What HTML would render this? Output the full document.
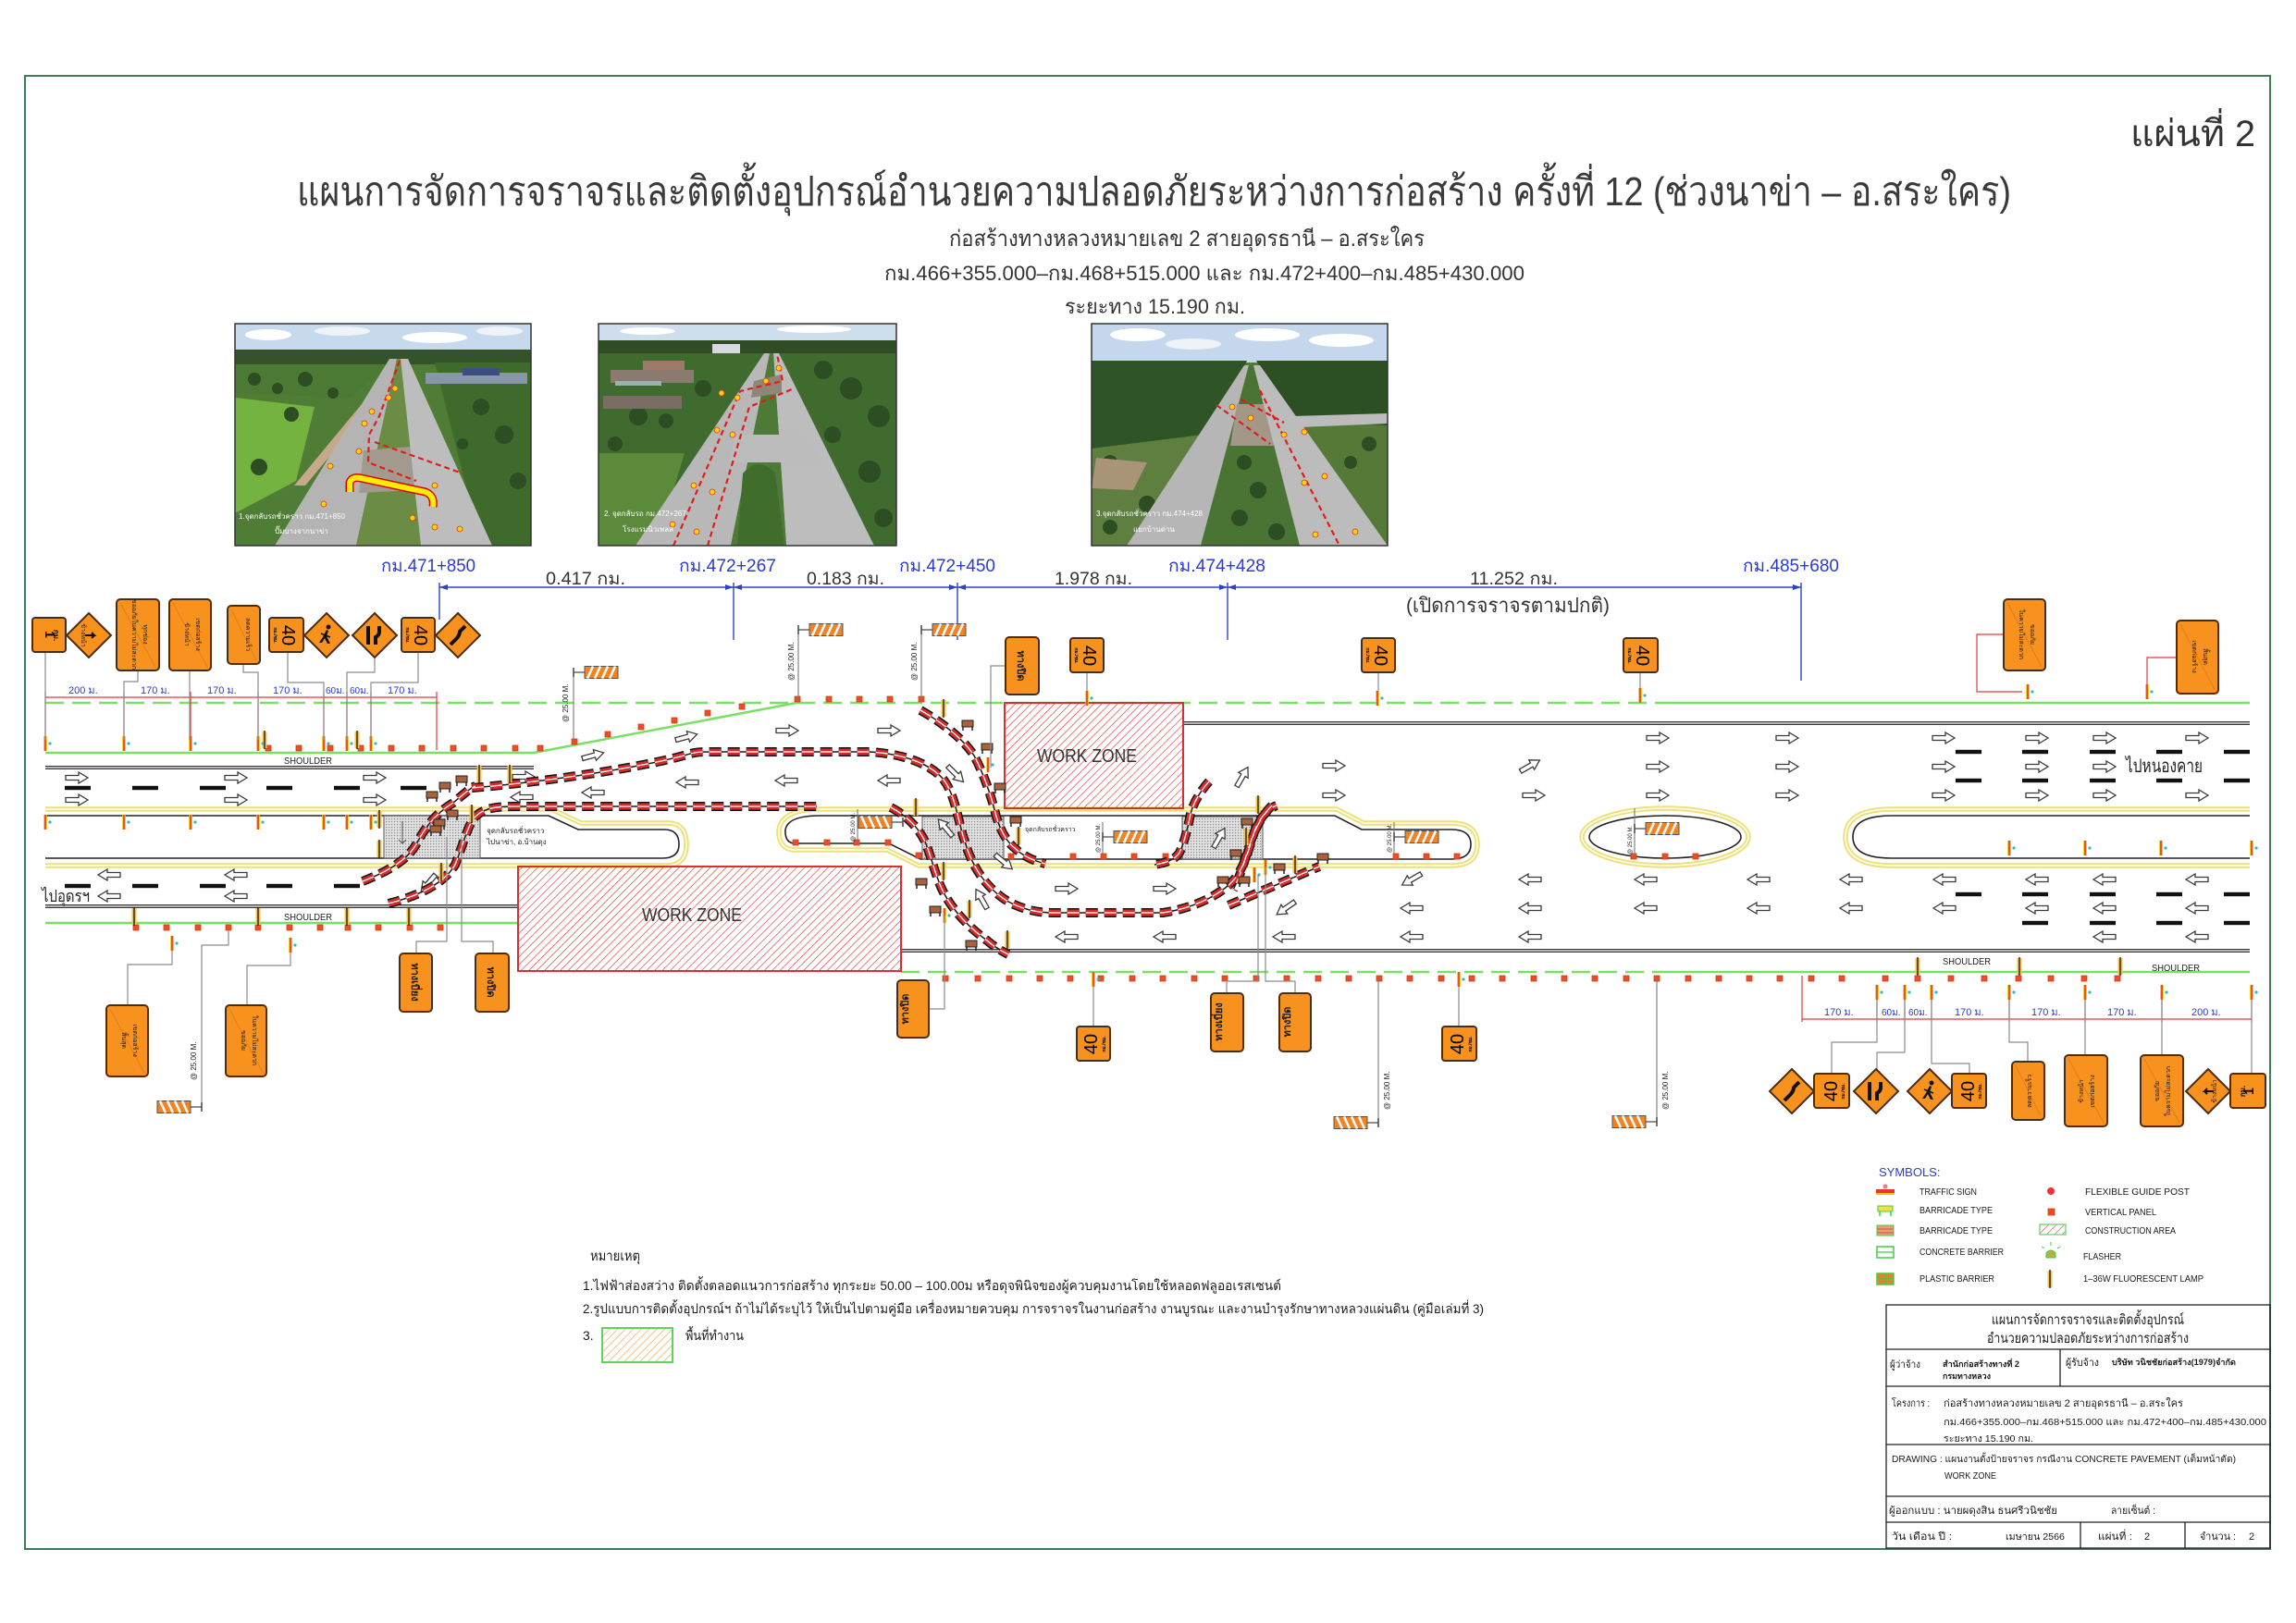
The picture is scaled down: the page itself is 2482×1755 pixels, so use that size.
<!DOCTYPE html>
<html><head><meta charset="utf-8">
<style>
html,body{margin:0;padding:0;background:#fff;}
svg{display:block;}
text{font-family:"Liberation Sans","DejaVu Sans","Noto Sans CJK SC",sans-serif;}
.sg{fill:#f7921e;stroke:#4d2c0f;stroke-width:2;}
.sgl{stroke:#d97a1e;stroke-width:.8;fill:none;}
.st{font-size:7px;fill:#1a1a1a;}
.ld{fill:none;stroke:#8c8c8c;stroke-width:1.2;}
.rd{fill:none;stroke:#e23b3b;stroke-width:1.2;}
.bl{fill:#2a3bd1;}
.gd{fill:none;stroke:#78e064;stroke-width:2.5;stroke-dasharray:20 9;}
.gs{fill:none;stroke:#78e064;stroke-width:2.5;}
.dk{fill:none;stroke:#3a3a3a;stroke-width:4;}
.dl{fill:none;stroke:#dcdcdc;stroke-width:1.4;}
.ye{fill:none;stroke:#ebe07a;stroke-width:5.5;}
.yi{fill:none;stroke:#fffbe2;stroke-width:1.8;}
.me{fill:none;stroke:#222;stroke-width:1.6;}
.c1{fill:none;stroke:#1a1a1a;stroke-width:1.5;}
.c2{fill:none;stroke:#151515;stroke-width:10;stroke-dasharray:13 7;}
.c3{fill:none;stroke:#d42a2a;stroke-width:7;stroke-dasharray:13 7;}
.c4{fill:none;stroke:#fff;stroke-width:1.3;stroke-dasharray:13 7;}
.t25{font-size:8px;fill:#222;}
.lg{font-size:10px;fill:#1a1a1a;}
.tb{fill:#1a1a1a;}
.cap{fill:#fff;font-size:8px;}
.tr{fill:#2d4d22;}
</style></head><body>
<svg xmlns="http://www.w3.org/2000/svg" xmlns:xlink="http://www.w3.org/1999/xlink" width="2482" height="1755" viewBox="0 0 2482 1755">
<defs>
<pattern id="hat" width="6" height="6" patternUnits="userSpaceOnUse" patternTransform="rotate(45)"><line x1="0" y1="0" x2="0" y2="6" stroke="#e03a3a" stroke-width="1.3"/></pattern>
<pattern id="hato" width="6" height="6" patternUnits="userSpaceOnUse" patternTransform="rotate(45)"><line x1="0" y1="0" x2="0" y2="6" stroke="#f0a040" stroke-width="1.3"/></pattern>
<pattern id="dots" width="3" height="3" patternUnits="userSpaceOnUse"><rect width="3" height="3" fill="#e0e0e0"/><rect width="1.2" height="1.2" fill="#8a8a8a"/></pattern>
<clipPath id="cp1"><rect x="254" y="350" width="320" height="240"/></clipPath>
<clipPath id="cp2"><rect x="647" y="350" width="322" height="240"/></clipPath>
<clipPath id="cp3"><rect x="1180" y="350" width="320" height="240"/></clipPath>
<g id="ar"><path d="M-12,-2.5H2V-6L12,0L2,6V2.5H-12Z" fill="#fff" stroke="#3a3a3a" stroke-width="1.3"/></g>
<g id="al"><path d="M12,-2.5H-2V-6L-12,0L-2,6V2.5H12Z" fill="#fff" stroke="#3a3a3a" stroke-width="1.3"/></g>
<g id="rq"><rect x="-3" y="-3" width="6" height="6" fill="#f04a2a" stroke="#c41" stroke-width="0.8"/></g>
<g id="po"><rect x="-1.8" y="-8" width="3.6" height="16" fill="#f4c20d"/><line x1="0" y1="-8" x2="0" y2="8" stroke="#e3262a" stroke-width="1.4"/><circle cx="5" cy="0" r="1.6" fill="#35b9b9"/></g>
<g id="lp"><rect x="-2.5" y="-9" width="5" height="18" fill="#f6c04a"/><line x1="0" y1="-10" x2="0" y2="10" stroke="#222" stroke-width="1.4"/></g>
<g id="bar"><line x1="0" y1="-5" x2="0" y2="5" stroke="#444" stroke-width="1.5"/><line x1="0" y1="0" x2="12" y2="0" stroke="#444" stroke-width="1.2"/><rect x="12" y="-6.5" width="36" height="13" fill="#f58220" stroke="#555" stroke-width="1"/><path d="M15,6.5L21,-6.5M23,6.5L29,-6.5M31,6.5L37,-6.5M39,6.5L45,-6.5" stroke="#fff" stroke-width="2.6"/></g>
<g id="dh"><rect x="-14" y="-2.2" width="28" height="4.4" fill="#111"/></g>
<g id="bk"><rect x="-6" y="-4" width="12" height="7" fill="#a8623c" stroke="#222" stroke-width="1"/><line x1="-5" y1="3" x2="-5" y2="7" stroke="#222" stroke-width="1.5"/><line x1="5" y1="3" x2="5" y2="7" stroke="#222" stroke-width="1.5"/></g>
<path id="ch1" d="M510,852 C560,848 640,838 700,826 S740,813 770,813 L940,813 C975,815 1005,825 1020,843 C1033,860 1036,890 1043,910 C1050,935 1065,960 1090,975 C1105,983 1120,987 1140,987 L1257,987 C1290,982 1320,968 1335,950 C1350,930 1352,905 1360,890 C1366,880 1372,874 1380,871"/>
<path id="ch2" d="M420,977 C455,968 480,955 492,935 C500,915 505,895 512,885 C520,876 530,872 555,872 L883,872"/>
<path id="ch3" d="M392,953 C420,942 440,930 450,913 C458,897 470,880 490,868 C500,860 508,852 514,850"/>
<path id="ch4" d="M995,768 C1020,782 1042,800 1053,817 C1065,840 1072,863 1077,883 C1082,900 1090,912 1097,917 C1105,925 1115,930 1130,934"/>
<path id="ch5" d="M963,873 C980,882 993,895 1000,910 C1008,930 1012,950 1020,965 C1030,985 1050,1005 1067,1017 C1075,1024 1082,1028 1090,1032"/>
<path id="ch6" d="M1307,845 C1298,855 1290,868 1287,880 C1284,895 1280,912 1275,922 C1270,930 1260,933 1248,935"/>
<path id="ch7" d="M1328,979 L1426,937"/>
<path id="ch8" d="M1375,871 C1366,880 1358,893 1352,910 C1346,928 1342,945 1333,962"/>
</defs>

<rect x="0" y="0" width="2482" height="1755" fill="#fff"/>
<rect x="27" y="82" width="2427" height="1593" fill="none" stroke="#3f7d5a" stroke-width="2"/>

<!-- Titles -->
<text x="2303" y="158" font-size="40" fill="#333" textLength="135" lengthAdjust="spacingAndGlyphs">แผ่นที่ 2</text>
<text x="321" y="222" font-size="44" fill="#3a3a3a" textLength="1853" lengthAdjust="spacingAndGlyphs">แผนการจัดการจราจรและติดตั้งอุปกรณ์อำนวยความปลอดภัยระหว่างการก่อสร้าง  ครั้งที่ 12 (ช่วงนาข่า –  อ.สระใคร)</text>
<text x="1026" y="266" font-size="24" fill="#333" textLength="514" lengthAdjust="spacingAndGlyphs">ก่อสร้างทางหลวงหมายเลข 2 สายอุดรธานี – อ.สระใคร</text>
<text x="956" y="303" font-size="22" fill="#333" textLength="692" lengthAdjust="spacingAndGlyphs">กม.466+355.000–กม.468+515.000  และ  กม.472+400–กม.485+430.000</text>
<text x="1151" y="339" font-size="22" fill="#333" textLength="195" lengthAdjust="spacingAndGlyphs">ระยะทาง 15.190  กม.</text>

<!-- Photo 1 -->
<g clip-path="url(#cp1)">
<rect x="254" y="350" width="320" height="240" fill="#4f7d35"/>
<rect x="254" y="350" width="320" height="30" fill="#c7d9ec"/>
<ellipse cx="290" cy="362" rx="25" ry="6" fill="#fff"/><ellipse cx="370" cy="358" rx="30" ry="5" fill="#eef3f8"/><ellipse cx="470" cy="365" rx="35" ry="6" fill="#fff"/><ellipse cx="540" cy="358" rx="25" ry="5" fill="#eef3f8"/>
<rect x="254" y="378" width="320" height="16" fill="#34532a"/>
<polygon points="470,392 574,392 574,590 520,590" fill="#3e6a2c"/>
<polygon points="254,430 340,440 320,520 254,555" fill="#74b340"/>
<polygon points="254,395 420,395 380,430 254,425" fill="#4a7a33"/>
<g class="tr"><circle cx="275" cy="410" r="7"/><circle cx="300" cy="420" r="6"/><circle cx="330" cy="410" r="8"/><circle cx="360" cy="425" r="6"/><circle cx="315" cy="448" r="8"/><circle cx="280" cy="505" r="9"/><circle cx="520" cy="440" r="9"/><circle cx="545" cy="470" r="10"/><circle cx="560" cy="520" r="9"/><circle cx="500" cy="480" r="6"/></g>
<rect x="460" y="403" width="110" height="12" fill="#8896aa"/><rect x="500" y="398" width="40" height="8" fill="#3a4f80"/>
<polygon points="405,420 418,420 330,525 318,525" fill="#c6a98a"/>
<polygon points="421,388 429,388 385,590 297,590" fill="#b4b4b4"/>
<polygon points="429,388 433,388 455,590 385,590" fill="#6a8c45"/>
<polygon points="393,487 445,483 450,530 388,533" fill="#a29a8e"/>
<polygon points="433,388 441,388 532,590 455,590" fill="#bdbdbd"/>
<path d="M432,390 L410,450 L399,470 L398,500 L450,520 M405,478 L500,512" fill="none" stroke="#e41b1b" stroke-width="2.2" stroke-dasharray="6 4"/>
<path d="M378,532 L378,522 Q380,515 390,517 L460,532 Q470,536 468,548" fill="none" stroke="#d00" stroke-width="9"/>
<path d="M378,532 L378,522 Q380,515 390,517 L460,532 Q470,536 468,548" fill="none" stroke="#ffec00" stroke-width="6"/>
<g fill="#ffd400" stroke="#d33" stroke-width="0.8"><circle cx="357" cy="504" r="3"/><circle cx="388" cy="488" r="3"/><circle cx="394" cy="458" r="3"/><circle cx="402" cy="445" r="3"/><circle cx="420" cy="430" r="3"/><circle cx="427" cy="420" r="3"/><circle cx="470" cy="525" r="3"/><circle cx="446" cy="560" r="3"/><circle cx="470" cy="570" r="3"/><circle cx="497" cy="572" r="3"/><circle cx="350" cy="545" r="3"/></g>
<text x="258" y="561" class="cap">1.จุดกลับรถชั่วคราว กม.471+850</text>
<text x="297" y="577" class="cap">ปั๊มบางจากนาข่า</text>
</g>
<rect x="254" y="350" width="320" height="240" fill="none" stroke="#333" stroke-width="1.5"/>

<!-- Photo 2 -->
<g clip-path="url(#cp2)">
<rect x="647" y="350" width="322" height="240" fill="#3f6b2e"/>
<rect x="647" y="350" width="322" height="19" fill="#cfdeed"/>
<ellipse cx="700" cy="358" rx="30" ry="4" fill="#fff"/><ellipse cx="880" cy="356" rx="40" ry="4" fill="#fff"/>
<rect x="647" y="368" width="322" height="14" fill="#2f4c24"/>
<g class="tr"><circle cx="890" cy="400" r="10"/><circle cx="920" cy="420" r="12"/><circle cx="950" cy="450" r="12"/><circle cx="900" cy="470" r="9"/><circle cx="940" cy="510" r="12"/><circle cx="955" cy="560" r="10"/><circle cx="690" cy="450" r="10"/><circle cx="720" cy="455" r="8"/><circle cx="665" cy="480" r="8"/><circle cx="760" cy="420" r="9"/></g>
<rect x="770" y="372" width="30" height="10" fill="#d8d8e0"/>
<rect x="695" y="390" width="45" height="12" fill="#a0786a"/>
<rect x="660" y="400" width="90" height="14" fill="#8a7b6e"/>
<rect x="665" y="412" width="50" height="5" fill="#9cb0b0"/>
<rect x="652" y="428" width="85" height="14" fill="#7a6e64"/>
<polygon points="647,490 740,490 710,590 647,590" fill="#5a8a3a"/>
<polygon points="826,382 832,382 790,590 687,590" fill="#b8b8b8"/>
<polygon points="836,382 842,382 945,590 850,590" fill="#bdbdbd"/>
<polygon points="832,382 836,382 850,590 790,590" fill="#4e7a38"/>
<polygon points="795,470 868,470 890,500 788,500" fill="#bcbcbc"/>
<path d="M797,590 L803,512 Q820,492 838,512 L848,590 Z" fill="#3f6e2c"/>
<polygon points="815,412 845,405 845,425 812,430" fill="#8f8678"/>
<path d="M728,590 L800,423 L846,412 L840,383 M765,590 L810,440 L856,421" fill="none" stroke="#e41b1b" stroke-width="2.2" stroke-dasharray="6 4"/>
<g fill="#ffd400" stroke="#d33" stroke-width="0.8"><circle cx="780" cy="425" r="3"/><circle cx="797" cy="430" r="3"/><circle cx="828" cy="412" r="3"/><circle cx="842" cy="398" r="3"/><circle cx="775" cy="465" r="3"/><circle cx="792" cy="470" r="3"/><circle cx="750" cy="525" r="3"/><circle cx="770" cy="532" r="3"/><circle cx="727" cy="567" r="3"/><circle cx="753" cy="575" r="3"/></g>
<text x="653" y="558" class="cap">2. จุดกลับรถ กม.472+267</text>
<text x="673" y="575" class="cap">โรงแรมนิวเพลส</text>
</g>
<rect x="647" y="350" width="322" height="240" fill="none" stroke="#333" stroke-width="1.5"/>

<!-- Photo 3 -->
<g clip-path="url(#cp3)">
<rect x="1180" y="350" width="320" height="240" fill="#557a38"/>
<rect x="1180" y="350" width="320" height="42" fill="#c4d7ec"/>
<ellipse cx="1230" cy="362" rx="30" ry="7" fill="#fff"/><ellipse cx="1290" cy="372" rx="30" ry="6" fill="#eef3f8"/><ellipse cx="1370" cy="362" rx="35" ry="7" fill="#fff"/><ellipse cx="1450" cy="368" rx="35" ry="7" fill="#fff"/>
<polygon points="1180,390 1348,390 1310,470 1180,485" fill="#2f5426"/>
<polygon points="1358,390 1500,390 1500,460 1400,455" fill="#2c5024"/>
<polygon points="1180,485 1300,470 1260,590 1180,590" fill="#5f7f40"/>
<g class="tr"><circle cx="1200" cy="500" r="8"/><circle cx="1240" cy="545" r="9"/><circle cx="1200" cy="570" r="8"/><circle cx="1480" cy="480" r="8"/><circle cx="1460" cy="500" r="7"/></g>
<polygon points="1185,495 1240,500 1225,530 1180,528" fill="#a99478"/>
<polygon points="1345,395 1350,395 1298,590 1218,590" fill="#b6b6b6"/>
<polygon points="1350,395 1355,395 1405,590 1298,590" fill="#4a7434"/>
<g class="tr"><circle cx="1345" cy="500" r="8"/><circle cx="1360" cy="530" r="9"/><circle cx="1340" cy="560" r="9"/><circle cx="1380" cy="575" r="9"/></g>
<polygon points="1337,437 1372,437 1378,482 1330,482" fill="#a39887"/>
<polygon points="1355,395 1362,395 1500,590 1405,590" fill="#bcbcbc"/>
<polygon points="1395,450 1500,447 1500,458 1405,462" fill="#bcbcbc"/>
<path d="M1315,438 L1373,480 M1342,432 L1388,457 M1362,422 L1448,590" fill="none" stroke="#e41b1b" stroke-width="2.2" stroke-dasharray="6 4"/>
<g fill="#ffd400" stroke="#d33" stroke-width="0.8"><circle cx="1332" cy="440" r="3"/><circle cx="1352" cy="452" r="3"/><circle cx="1388" cy="470" r="3"/><circle cx="1410" cy="467" r="3"/><circle cx="1410" cy="522" r="3"/><circle cx="1432" cy="515" r="3"/><circle cx="1422" cy="578" r="3"/><circle cx="1465" cy="575" r="3"/></g>
<text x="1185" y="558" class="cap">3.จุดกลับรถชั่วคราว กม.474+428</text>
<text x="1225" y="575" class="cap">แยกบ้านด่าน</text>
</g>
<rect x="1180" y="350" width="320" height="240" fill="none" stroke="#333" stroke-width="1.5"/>

<!-- Stations -->
<g font-size="19" class="bl">
<text x="412" y="618" textLength="102" lengthAdjust="spacingAndGlyphs">กม.471+850</text>
<text x="734" y="618" textLength="105" lengthAdjust="spacingAndGlyphs">กม.472+267</text>
<text x="972" y="618" textLength="104" lengthAdjust="spacingAndGlyphs">กม.472+450</text>
<text x="1263" y="618" textLength="105" lengthAdjust="spacingAndGlyphs">กม.474+428</text>
<text x="1884" y="618" textLength="104" lengthAdjust="spacingAndGlyphs">กม.485+680</text>
</g>
<g stroke="#3040c8" stroke-width="1.4" fill="none">
<line x1="475" y1="635" x2="1947" y2="635"/>
<line x1="475" y1="630" x2="475" y2="670"/>
<line x1="793" y1="630" x2="793" y2="692"/>
<line x1="1035" y1="630" x2="1035" y2="692"/>
<line x1="1327" y1="630" x2="1327" y2="692"/>
<line x1="1947" y1="630" x2="1947" y2="736"/>
</g>
<g fill="#3040c8"><path d="M475,635 l9,-3 v6z"/><path d="M793,635 l-9,-3 v6z"/><path d="M793,635 l9,-3 v6z"/><path d="M1035,635 l-9,-3 v6z"/><path d="M1035,635 l9,-3 v6z"/><path d="M1327,635 l-9,-3 v6z"/><path d="M1327,635 l9,-3 v6z"/><path d="M1947,635 l-9,-3 v6z"/></g>
<g font-size="19" fill="#333">
<text x="590" y="632" textLength="86" lengthAdjust="spacingAndGlyphs">0.417  กม.</text>
<text x="872" y="632" textLength="84" lengthAdjust="spacingAndGlyphs">0.183  กม.</text>
<text x="1140" y="632" textLength="84" lengthAdjust="spacingAndGlyphs">1.978  กม.</text>
<text x="1589" y="632" textLength="95" lengthAdjust="spacingAndGlyphs">11.252  กม.</text>
<text x="1520" y="662" font-size="22" textLength="220" lengthAdjust="spacingAndGlyphs">(เปิดการจราจรตามปกติ)</text>
</g>

<!-- ROAD: boundaries -->
<path class="gd" d="M49,760 H1804"/>
<path class="gs" d="M1804,760 H2432"/>
<path class="gs" d="M49,814 H577 L861,760"/>
<path class="gs" d="M49,998 H560"/>
<path class="gd" d="M974,1051 H1804"/>
<path class="gs" d="M1804,1051 H2432"/>
<path class="dk" d="M49,830 H577"/><path class="dl" d="M49,830 H577"/>
<path class="dk" d="M1279,782 H2432"/><path class="dl" d="M1279,782 H2432"/>
<path class="dk" d="M49,980 H560"/><path class="dl" d="M49,980 H560"/>
<path class="dk" d="M974,1028 H2432"/><path class="dl" d="M974,1028 H2432"/>

<!-- medians -->
<path class="ye" d="M49,875 L596,875 L628,890 L722,890 Q742,890 742,913 Q742,936 720,936 L49,936"/>
<path class="yi" d="M49,875 L596,875 L628,890 L722,890 Q742,890 742,913 Q742,936 720,936 L49,936"/>
<path class="me" d="M49,882 L593,882 L625,897 L718,897 Q734,897 734,913 Q734,928 716,928 L49,928"/>
<path class="ye" d="M886,875 L1445,875 L1474,890 L1569,890 Q1597,890 1597,913 Q1597,936 1569,936 L993,936 L959,919 L860,919 Q841,919 842,897 Q846,875 886,875 Z"/>
<path class="yi" d="M886,875 L1445,875 L1474,890 L1569,890 Q1597,890 1597,913 Q1597,936 1569,936 L993,936 L959,919 L860,919 Q841,919 842,897 Q846,875 886,875 Z"/>
<path class="me" d="M886,882 L1443,882 L1472,897 L1569,897 Q1590,897 1590,913 Q1590,929 1569,929 L995,929 L961,912 L860,912 Q848,912 849,897 Q852,882 886,882 Z"/>
<ellipse cx="1800" cy="905" rx="90" ry="31" class="ye"/><ellipse cx="1800" cy="905" rx="90" ry="31" class="yi"/>
<ellipse cx="1800" cy="905" rx="82" ry="23" class="me"/>
<path class="ye" d="M2432,875 L2045,875 Q1995,875 1995,905 Q1995,936 2045,936 L2432,936"/>
<path class="yi" d="M2432,875 L2045,875 Q1995,875 1995,905 Q1995,936 2045,936 L2432,936"/>
<path class="me" d="M2432,882 L2045,882 Q2003,882 2003,905 Q2003,928 2045,928 L2432,928"/>

<!-- crossovers -->
<rect x="415" y="882" width="104" height="46" fill="url(#dots)" stroke="#555" stroke-width="1"/>
<rect x="997" y="883" width="88" height="46" fill="url(#dots)" stroke="#555" stroke-width="1"/>
<rect x="1278" y="883" width="87" height="46" fill="url(#dots)" stroke="#555" stroke-width="1"/>
<g fill="none" stroke="#555" stroke-width="1"><path d="M435,888 v24 l-4,-4 m4,4 l4,-4"/></g>
<use href="#ar" transform="translate(1022,895) rotate(-130)"/>
<use href="#ar" transform="translate(1318,906) rotate(-60)"/>
<text x="526" y="901" font-size="8" fill="#222">จุดกลับรถชั่วคราว</text>
<text x="526" y="913" font-size="8" fill="#222">ไปนาข่า, อ.บ้านดุง</text>
<text x="1108" y="899" font-size="7" fill="#222">จุดกลับรถชั่วคราว</text>

<!-- work zones -->
<rect x="560" y="937" width="414" height="113" fill="url(#hat)" stroke="#d83030" stroke-width="2"/>
<text x="694" y="996" font-size="20" fill="#333" textLength="108" lengthAdjust="spacingAndGlyphs">WORK   ZONE</text>
<rect x="1086" y="760" width="193" height="114" fill="url(#hat)" stroke="#d83030" stroke-width="2"/>
<text x="1121" y="824" font-size="20" fill="#333" textLength="108" lengthAdjust="spacingAndGlyphs">WORK   ZONE</text>

<!-- lane dashes -->
<g>
<use href="#dh" x="84" y="852"/><use href="#dh" x="157" y="852"/><use href="#dh" x="230" y="852"/><use href="#dh" x="302" y="852"/><use href="#dh" x="375" y="852"/><use href="#dh" x="447" y="852"/>
<use href="#dh" x="84" y="958"/><use href="#dh" x="157" y="958"/><use href="#dh" x="230" y="958"/><use href="#dh" x="302" y="958"/><use href="#dh" x="375" y="958"/>
<use href="#dh" x="2128" y="813"/><use href="#dh" x="2200" y="813"/><use href="#dh" x="2273" y="813"/><use href="#dh" x="2345" y="813"/><use href="#dh" x="2418" y="813"/>
<use href="#dh" x="2128" y="844"/><use href="#dh" x="2200" y="844"/><use href="#dh" x="2273" y="844"/><use href="#dh" x="2345" y="844"/><use href="#dh" x="2418" y="844"/>
<use href="#dh" x="2128" y="967"/><use href="#dh" x="2200" y="967"/><use href="#dh" x="2273" y="967"/><use href="#dh" x="2345" y="967"/><use href="#dh" x="2418" y="967"/>
<use href="#dh" x="2200" y="998"/><use href="#dh" x="2273" y="998"/><use href="#dh" x="2345" y="998"/><use href="#dh" x="2418" y="998"/>
</g>

<!-- arrows -->
<g>
<use href="#ar" x="83" y="841"/><use href="#ar" x="255" y="841"/><use href="#ar" x="405" y="841"/>
<use href="#ar" x="83" y="865"/><use href="#ar" x="255" y="865"/><use href="#ar" x="405" y="865"/>
<use href="#ar" x="566" y="840"/>
<use href="#ar" transform="translate(641,817) rotate(-15)"/><use href="#ar" transform="translate(742,797) rotate(-15)"/>
<use href="#ar" x="851" y="790"/><use href="#ar" x="961" y="790"/>
<use href="#ar" x="1153" y="961"/><use href="#ar" x="1259" y="961"/>
<use href="#ar" x="1442" y="828"/><use href="#ar" x="1442" y="860"/>
<use href="#ar" transform="translate(1654,828) rotate(-30)"/><use href="#ar" x="1658" y="860"/>
<use href="#ar" transform="translate(1033,837) rotate(45)"/>
<use href="#ar" transform="translate(1343,840) rotate(-60)"/>
<use href="#ar" x="1792" y="798"/><use href="#ar" x="1932" y="798"/><use href="#ar" x="2101" y="798"/><use href="#ar" x="2202" y="798"/><use href="#ar" x="2275" y="798"/><use href="#ar" x="2375" y="798"/>
<use href="#ar" x="1792" y="829"/><use href="#ar" x="1932" y="829"/><use href="#ar" x="2101" y="829"/><use href="#ar" x="2202" y="829"/><use href="#ar" x="2275" y="829"/>
<use href="#ar" x="1792" y="860"/><use href="#ar" x="1932" y="860"/><use href="#ar" x="2101" y="860"/><use href="#ar" x="2202" y="860"/><use href="#ar" x="2275" y="860"/><use href="#ar" x="2375" y="860"/>
<use href="#al" x="118" y="946"/><use href="#al" x="255" y="946"/><use href="#al" x="118" y="969"/><use href="#al" x="255" y="969"/>
<use href="#al" x="564" y="862"/><use href="#al" x="641" y="857"/><use href="#al" x="743" y="846"/><use href="#al" x="850" y="844"/><use href="#al" x="961" y="844"/>
<use href="#al" transform="translate(463,955) rotate(-50)"/>
<use href="#al" transform="translate(1061,972) rotate(60)"/>
<use href="#al" transform="translate(1085,932) rotate(-140)"/>
<use href="#al" x="1153" y="1013"/><use href="#al" x="1259" y="1013"/><use href="#al" x="1388" y="1013"/>
<use href="#al" transform="translate(1390,982) rotate(-35)"/>
<use href="#al" transform="translate(1526,951) rotate(-30)"/><use href="#al" x="1526" y="982"/><use href="#al" x="1526" y="1013"/>
<use href="#al" x="1654" y="951"/><use href="#al" x="1654" y="982"/><use href="#al" x="1654" y="1013"/>
<use href="#al" x="1779" y="951"/><use href="#al" x="1901" y="951"/><use href="#al" x="2001" y="951"/><use href="#al" x="2102" y="951"/><use href="#al" x="2202" y="951"/><use href="#al" x="2275" y="951"/><use href="#al" x="2375" y="951"/>
<use href="#al" x="1779" y="982"/><use href="#al" x="1901" y="982"/><use href="#al" x="2001" y="982"/><use href="#al" x="2102" y="982"/><use href="#al" x="2202" y="982"/><use href="#al" x="2275" y="982"/><use href="#al" x="2375" y="982"/>
<use href="#al" x="2275" y="1013"/><use href="#al" x="2375" y="1013"/>
</g>

<!-- text road -->
<text x="307" y="826" font-size="10" fill="#222" textLength="52" lengthAdjust="spacingAndGlyphs">SHOULDER</text>
<text x="307" y="995" font-size="10" fill="#222" textLength="52" lengthAdjust="spacingAndGlyphs">SHOULDER</text>
<text x="2100" y="1043" font-size="10" fill="#222" textLength="52" lengthAdjust="spacingAndGlyphs">SHOULDER</text>
<text x="2326" y="1050" font-size="10" fill="#222" textLength="52" lengthAdjust="spacingAndGlyphs">SHOULDER</text>
<text x="45" y="975" font-size="18" fill="#222" textLength="52" lengthAdjust="spacingAndGlyphs">ไปอุดรฯ</text>
<text x="2298" y="835" font-size="20" fill="#222" textLength="83" lengthAdjust="spacingAndGlyphs">ไปหนองคาย</text>

<!-- red squares -->
<g>
<use href="#rq" x="290" y="809"/><use href="#rq" x="323" y="809"/><use href="#rq" x="357" y="809"/><use href="#rq" x="390" y="809"/><use href="#rq" x="423" y="809"/><use href="#rq" x="456" y="809"/><use href="#rq" x="490" y="809"/><use href="#rq" x="523" y="809"/><use href="#rq" x="557" y="809"/><use href="#rq" x="584" y="809"/>
<use href="#rq" x="621" y="802"/><use href="#rq" x="657" y="794"/><use href="#rq" x="693" y="786"/><use href="#rq" x="729" y="779"/><use href="#rq" x="765" y="771"/><use href="#rq" x="802" y="764"/>
<use href="#rq" x="862" y="756"/><use href="#rq" x="896" y="756"/><use href="#rq" x="929" y="756"/><use href="#rq" x="962" y="756"/><use href="#rq" x="996" y="756"/>
<use href="#rq" x="147" y="1003"/><use href="#rq" x="180" y="1003"/><use href="#rq" x="214" y="1003"/><use href="#rq" x="247" y="1003"/><use href="#rq" x="279" y="1003"/><use href="#rq" x="313" y="1003"/><use href="#rq" x="346" y="1003"/><use href="#rq" x="376" y="1003"/><use href="#rq" x="409" y="1003"/><use href="#rq" x="443" y="1003"/><use href="#rq" x="476" y="1003"/>
<use href="#rq" x="1022" y="1058"/><use href="#rq" x="1057" y="1058"/><use href="#rq" x="1091" y="1058"/><use href="#rq" x="1124" y="1058"/><use href="#rq" x="1157" y="1058"/><use href="#rq" x="1190" y="1058"/><use href="#rq" x="1224" y="1058"/><use href="#rq" x="1257" y="1058"/><use href="#rq" x="1291" y="1058"/><use href="#rq" x="1324" y="1058"/><use href="#rq" x="1358" y="1058"/><use href="#rq" x="1391" y="1058"/><use href="#rq" x="1425" y="1058"/><use href="#rq" x="1458" y="1058"/><use href="#rq" x="1491" y="1058"/><use href="#rq" x="1524" y="1058"/><use href="#rq" x="1558" y="1058"/><use href="#rq" x="1591" y="1058"/><use href="#rq" x="1624" y="1058"/><use href="#rq" x="1658" y="1058"/><use href="#rq" x="1691" y="1058"/><use href="#rq" x="1724" y="1058"/><use href="#rq" x="1758" y="1058"/><use href="#rq" x="1791" y="1058"/><use href="#rq" x="1825" y="1058"/><use href="#rq" x="1858" y="1058"/><use href="#rq" x="1891" y="1058"/><use href="#rq" x="1924" y="1058"/><use href="#rq" x="1958" y="1058"/><use href="#rq" x="1991" y="1058"/><use href="#rq" x="2038" y="1058"/><use href="#rq" x="2073" y="1058"/><use href="#rq" x="2109" y="1058"/><use href="#rq" x="2145" y="1058"/><use href="#rq" x="2182" y="1058"/><use href="#rq" x="2217" y="1058"/><use href="#rq" x="2253" y="1058"/><use href="#rq" x="2289" y="1058"/>
<use href="#rq" x="860" y="911"/><use href="#rq" x="894" y="911"/><use href="#rq" x="926" y="911"/><use href="#rq" x="960" y="911"/><use href="#rq" x="993" y="925"/>
<use href="#rq" x="1093" y="926"/><use href="#rq" x="1160" y="926"/><use href="#rq" x="1193" y="926"/><use href="#rq" x="1226" y="926"/><use href="#rq" x="1260" y="926"/><use href="#rq" x="1509" y="926"/><use href="#rq" x="1542" y="926"/><use href="#rq" x="1575" y="926"/>
<use href="#rq" x="1766" y="926"/><use href="#rq" x="1800" y="926"/><use href="#rq" x="1833" y="926"/>
</g>

<!-- chains -->
<g>
<use href="#ch1" class="c1"/><use href="#ch2" class="c1"/><use href="#ch3" class="c1"/><use href="#ch4" class="c1"/><use href="#ch5" class="c1"/><use href="#ch6" class="c1"/><use href="#ch7" class="c1"/><use href="#ch8" class="c1"/>
<use href="#ch1" class="c2"/><use href="#ch2" class="c2"/><use href="#ch3" class="c2"/><use href="#ch4" class="c2"/><use href="#ch5" class="c2"/><use href="#ch6" class="c2"/><use href="#ch7" class="c2"/><use href="#ch8" class="c2"/>
<use href="#ch1" class="c3"/><use href="#ch2" class="c3"/><use href="#ch3" class="c3"/><use href="#ch4" class="c3"/><use href="#ch5" class="c3"/><use href="#ch6" class="c3"/><use href="#ch7" class="c3"/><use href="#ch8" class="c3"/>
<use href="#ch1" class="c4"/><use href="#ch2" class="c4"/><use href="#ch3" class="c4"/><use href="#ch4" class="c4"/><use href="#ch5" class="c4"/><use href="#ch6" class="c4"/><use href="#ch7" class="c4"/><use href="#ch8" class="c4"/>
</g>

<!-- small barricade icons -->
<g>
<use href="#bk" x="1046" y="783"/><use href="#bk" x="1067" y="808"/><use href="#bk" x="1081" y="851"/><use href="#bk" x="1098" y="887"/><use href="#bk" x="996" y="954"/><use href="#bk" x="1011" y="984"/><use href="#bk" x="1050" y="1021"/><use href="#bk" x="1322" y="952"/><use href="#bk" x="1345" y="952"/><use href="#bk" x="1383" y="938"/><use href="#bk" x="1430" y="927"/><use href="#bk" x="1336" y="923"/><use href="#bk" x="1348" y="889"/>
<use href="#bk" x="481" y="850"/><use href="#bk" x="499" y="843"/><use href="#bk" x="467" y="860"/><use href="#bk" x="475" y="890"/><use href="#bk" x="489" y="880"/><use href="#bk" x="471" y="897"/>
</g>

<!-- lamps -->
<g>
<use href="#lp" x="286" y="800"/><use href="#lp" x="386" y="800"/>
<use href="#lp" x="145" y="991"/><use href="#lp" x="279" y="991"/><use href="#lp" x="375" y="991"/><use href="#lp" x="442" y="991"/>
<use href="#lp" x="2073" y="1045"/><use href="#lp" x="2183" y="1045"/><use href="#lp" x="2292" y="1045"/>
<use href="#lp" x="518" y="837"/><use href="#lp" x="551" y="837"/><use href="#lp" x="410" y="886"/><use href="#lp" x="410" y="918"/><use href="#lp" x="510" y="880"/><use href="#lp" x="477" y="943"/>
<use href="#lp" x="1020" y="766"/><use href="#lp" x="1101" y="904"/><use href="#lp" x="990" y="873"/><use href="#lp" x="1020" y="942"/><use href="#lp" x="1048" y="983"/><use href="#lp" x="1089" y="1016"/><use href="#lp" x="1360" y="870"/><use href="#lp" x="1400" y="935"/><use href="#lp" x="1347" y="905"/>
</g>

<!-- posts -->
<g>
<use href="#po" x="49" y="804"/><use href="#po" x="134" y="804"/><use href="#po" x="206" y="804"/><use href="#po" x="279" y="804"/><use href="#po" x="350" y="804"/><use href="#po" x="375" y="804"/><use href="#po" x="401" y="804"/>
<use href="#po" x="49" y="889"/><use href="#po" x="134" y="889"/><use href="#po" x="206" y="889"/><use href="#po" x="279" y="889"/><use href="#po" x="350" y="889"/><use href="#po" x="375" y="889"/><use href="#po" x="401" y="889"/>
<use href="#po" x="186" y="1020"/><use href="#po" x="314" y="1022"/>
<use href="#po" x="1175" y="755"/><use href="#po" x="1489" y="755"/><use href="#po" x="1773" y="752"/><use href="#po" x="2192" y="748"/><use href="#po" x="2321" y="748"/>
<use href="#po" x="1182" y="1059"/><use href="#po" x="1577" y="1059"/><use href="#po" x="1021" y="990"/><use href="#po" x="1068" y="827"/>
<use href="#po" x="1356" y="946"/><use href="#po" x="1368" y="938"/>
<use href="#po" x="2029" y="1073"/><use href="#po" x="2059" y="1073"/><use href="#po" x="2088" y="1073"/><use href="#po" x="2172" y="1073"/><use href="#po" x="2254" y="1073"/><use href="#po" x="2337" y="1073"/><use href="#po" x="2434" y="1073"/>
<use href="#po" x="2172" y="917"/><use href="#po" x="2254" y="917"/><use href="#po" x="2336" y="917"/><use href="#po" x="2434" y="917"/>
</g>

<!-- dimension top-left -->
<path class="rd" d="M49,754 H472 M49,748 V800 M134,748 V800 M206,748 V800 M279,748 V800 M350,748 V800 M375,748 V800 M401,748 V800 M472,748 V811"/>
<g font-size="11" class="bl">
<text x="74" y="750">200 ม.</text><text x="152" y="750">170 ม.</text><text x="224" y="750">170 ม.</text><text x="295" y="750">170 ม.</text><text x="352" y="750" font-size="10">60ม.</text><text x="378" y="750" font-size="10">60ม.</text><text x="419" y="750">170 ม.</text>
</g>
<!-- dimension bottom-right -->
<path class="rd" d="M1948,1102 H2434 M1948,1055 V1105 M2029,1080 V1105 M2059,1080 V1105 M2088,1080 V1105 M2172,1080 V1105 M2254,1080 V1105 M2337,1080 V1105 M2434,1080 V1105"/>
<g font-size="11" class="bl">
<text x="1972" y="1098">170 ม.</text><text x="2034" y="1098" font-size="10">60ม.</text><text x="2063" y="1098" font-size="10">60ม.</text><text x="2113" y="1098">170 ม.</text><text x="2196" y="1098">170 ม.</text><text x="2278" y="1098">170 ม.</text><text x="2369" y="1098">200 ม.</text>
</g>

<!-- leaders -->
<path class="ld" d="M49,705 V800 M149,725 V737 H134 V800 M205,725 V800 M263,718 V727 H279 V800 M311,705 V738 H350 V800 M405,711 V727 H375 V800 M452,705 V738 H401 V800"/>
<path class="ld" d="M138,1087 V1043 H186 V1028 M267,1087 V1044 H314 V1030 M218,1022 H247 V1006"/>
<path class="ld" d="M483,905 V1018 H450 V1031 M499,905 V1018 H533 V1031"/>
<path class="ld" d="M1087,720 H1071 V830 M1175,727 V747 M1490,727 V747 M1773,727 V744"/>
<path class="ld" d="M1004,1091 H1021 V990 M1182,1110 V1067 M1326,1074 V1061 H1360 V946 M1400,1074 V1061 H1368 V938 M1577,1110 V1067"/>
<path class="ld" d="M2029,1081 V1127 H1980 V1161 M2059,1081 V1138 H2029 V1157 M2088,1081 V1150 H2129 V1161 M2172,1081 V1127 H2192 V1148 M2254,1081 V1141 M2337,1081 V1141 M2434,1081 V1161"/>
<path class="rd" d="M2166,686 H2137 V748 H2186 M2353,711 H2321 V742"/>

<!-- @25 lines -->
<g stroke="#777" stroke-width="1.1" fill="none">
<path d="M620,727 V800"/><path d="M863,681 V756"/><path d="M996,681 V756"/><path d="M218,1022 V1197"/><path d="M1490,1058 V1214"/><path d="M1791,1058 V1213"/>
<path d="M927,875 V911"/><path d="M1192,889 V923"/><path d="M1507,889 V923"/><path d="M1767,874 V926"/>
</g>
<use href="#bar" x="620" y="727"/><use href="#bar" x="863" y="681"/><use href="#bar" x="996" y="681"/>
<use href="#bar" transform="translate(218,1197) scale(-1,1)"/><use href="#bar" transform="translate(1490,1214) scale(-1,1)"/><use href="#bar" transform="translate(1791,1213) scale(-1,1)"/>
<use href="#bar" transform="translate(976,889) scale(-1,1)"/><use href="#bar" x="1192" y="905"/><use href="#bar" x="1507" y="905"/><use href="#bar" x="1767" y="896"/>
<g class="t25">
<text transform="translate(614,781) rotate(-90)">@ 25.00 M.</text>
<text transform="translate(858,736) rotate(-90)">@ 25.00 M.</text>
<text transform="translate(991,736) rotate(-90)">@ 25.00 M.</text>
<text transform="translate(212,1168) rotate(-90)">@ 25.00 M.</text>
<text transform="translate(1502,1200) rotate(-90)">@ 25.00 M.</text>
<text transform="translate(1803,1200) rotate(-90)">@ 25.00 M.</text>
<text transform="translate(924,910) rotate(-90)" font-size="6">@ 25.00 M.</text>
<text transform="translate(1189,922) rotate(-90)" font-size="6">@ 25.00 M.</text>
<text transform="translate(1504,922) rotate(-90)" font-size="6">@ 25.00 M.</text>
<text transform="translate(1764,924) rotate(-90)" font-size="6">@ 25.00 M.</text>
</g>

<!-- SIGNS top-left -->
<g>
<rect x="35" y="668" width="36" height="37" rx="3" class="sg"/>
<text transform="translate(49,686) rotate(90)" text-anchor="middle" font-size="14" font-weight="bold">1</text>
<text transform="translate(58,687) rotate(90)" text-anchor="middle" font-size="8" font-weight="bold">กม.</text>
<polygon points="96,663 120,687 96,711 72,687" class="sg"/>
<path d="M92,687 h10 l-3,-3 m3,3 l-3,3" stroke="#111" stroke-width="2" fill="none"/>
<text transform="translate(88,687) rotate(90)" text-anchor="middle" class="st" font-size="5">ข้างหน้า</text>
<rect x="126" y="648" width="46" height="77" rx="4" class="sg"/><line x1="130" y1="652" x2="168" y2="721" class="sgl"/>
<text transform="translate(143,686) rotate(90)" text-anchor="middle" class="st">ขออภัยในความไม่สะดวก</text>
<text transform="translate(155,686) rotate(90)" text-anchor="middle" class="st">ทุกช่อง</text>
<rect x="183" y="648" width="45" height="77" rx="4" class="sg"/><line x1="187" y1="652" x2="224" y2="721" class="sgl"/>
<text transform="translate(200,686) rotate(90)" text-anchor="middle" class="st">ข้างหน้า</text>
<text transform="translate(212,686) rotate(90)" text-anchor="middle" class="st">เขตก่อสร้าง</text>
<rect x="246" y="655" width="35" height="63" rx="4" class="sg"/><line x1="250" y1="659" x2="277" y2="714" class="sgl"/>
<text transform="translate(266,686) rotate(90)" text-anchor="middle" class="st">ลดความเร็ว</text>
<rect x="291" y="668" width="37" height="37" rx="3" class="sg"/>
<text transform="translate(296,687) rotate(90)" text-anchor="middle" font-size="5" font-weight="bold">กม./ชม.</text>
<text transform="translate(305,687) rotate(90)" text-anchor="middle" font-size="20">40</text>
<polygon points="353,663 377,687 353,711 329,687" class="sg"/>
<g transform="translate(353,687)" fill="#111"><circle cx="2" cy="-9" r="2.5"/><path d="M0,-6 l-4,8 l-4,6 h3 l3,-5 l3,6 h3 l-4,-8 l2,-6z"/><path d="M-6,-2 l10,4" stroke="#111" stroke-width="1.5"/></g>
<polygon points="405,663 429,687 405,711 381,687" class="sg"/>
<path d="M398,677 v20 M410,677 v6 q0,4 -4,6 v8" stroke="#111" stroke-width="4" fill="none"/>
<rect x="434" y="668" width="36" height="37" rx="3" class="sg"/>
<text transform="translate(439,687) rotate(90)" text-anchor="middle" font-size="5" font-weight="bold">กม./ชม.</text>
<text transform="translate(448,687) rotate(90)" text-anchor="middle" font-size="20">40</text>
<polygon points="495,663 519,687 495,711 471,687" class="sg"/>
<path d="M487,697 l6,-6 q4,-4 4,-8 l6,-6" stroke="#111" stroke-width="4" fill="none"/>
</g>

<!-- SIGNS bottom-left -->
<g>
<rect x="115" y="1087" width="45" height="77" rx="4" class="sg"/><line x1="119" y1="1091" x2="156" y2="1160" class="sgl"/>
<text transform="translate(132,1125) rotate(90)" text-anchor="middle" class="st">สิ้นสุด</text>
<text transform="translate(144,1125) rotate(90)" text-anchor="middle" class="st">เขตก่อสร้าง</text>
<rect x="244" y="1087" width="44" height="77" rx="4" class="sg"/><line x1="248" y1="1091" x2="284" y2="1160" class="sgl"/>
<text transform="translate(261,1125) rotate(90)" text-anchor="middle" class="st">ขออภัย</text>
<text transform="translate(273,1125) rotate(90)" text-anchor="middle" class="st">ในความไม่สะดวก</text>
<rect x="432" y="1031" width="35" height="63" rx="4" class="sg"/>
<text transform="translate(445,1062) rotate(90)" text-anchor="middle" font-size="11" font-weight="bold" fill="#1a1a1a">ทางเบี่ยง</text>
<rect x="514" y="1031" width="36" height="63" rx="4" class="sg"/>
<text transform="translate(527,1062) rotate(90)" text-anchor="middle" font-size="11" font-weight="bold" fill="#1a1a1a">ทางปิด</text>
</g>

<!-- SIGNS middle -->
<g>
<rect x="1087" y="689" width="36" height="62" rx="4" class="sg"/>
<text transform="translate(1100,720) rotate(90)" text-anchor="middle" font-size="11" font-weight="bold" fill="#1a1a1a">ทางปิด</text>
<rect x="1157" y="690" width="36" height="37" rx="3" class="sg"/>
<text transform="translate(1162,709) rotate(90)" text-anchor="middle" font-size="5" font-weight="bold">กม./ชม.</text>
<text transform="translate(1171,709) rotate(90)" text-anchor="middle" font-size="20">40</text>
<rect x="1472" y="690" width="36" height="37" rx="3" class="sg"/>
<text transform="translate(1477,709) rotate(90)" text-anchor="middle" font-size="5" font-weight="bold">กม./ชม.</text>
<text transform="translate(1486,709) rotate(90)" text-anchor="middle" font-size="20">40</text>
<rect x="1755" y="690" width="37" height="37" rx="3" class="sg"/>
<text transform="translate(1760,709) rotate(90)" text-anchor="middle" font-size="5" font-weight="bold">กม./ชม.</text>
<text transform="translate(1769,709) rotate(90)" text-anchor="middle" font-size="20">40</text>
<rect x="970" y="1060" width="34" height="62" rx="4" class="sg"/>
<text transform="translate(982,1091) rotate(-90)" text-anchor="middle" font-size="11" font-weight="bold" fill="#1a1a1a">ทางปิด</text>
<rect x="1164" y="1110" width="36" height="37" rx="3" class="sg"/>
<text transform="translate(1195,1129) rotate(-90)" text-anchor="middle" font-size="5" font-weight="bold">กม./ชม.</text>
<text transform="translate(1186,1129) rotate(-90)" text-anchor="middle" font-size="20">40</text>
<rect x="1309" y="1074" width="35" height="63" rx="4" class="sg"/>
<text transform="translate(1321,1105) rotate(-90)" text-anchor="middle" font-size="11" font-weight="bold" fill="#1a1a1a">ทางเบี่ยง</text>
<rect x="1383" y="1074" width="34" height="63" rx="4" class="sg"/>
<text transform="translate(1395,1105) rotate(-90)" text-anchor="middle" font-size="11" font-weight="bold" fill="#1a1a1a">ทางปิด</text>
<rect x="1559" y="1110" width="37" height="37" rx="3" class="sg"/>
<text transform="translate(1591,1129) rotate(-90)" text-anchor="middle" font-size="5" font-weight="bold">กม./ชม.</text>
<text transform="translate(1582,1129) rotate(-90)" text-anchor="middle" font-size="20">40</text>
</g>

<!-- SIGNS right top -->
<g>
<rect x="2166" y="648" width="45" height="77" rx="4" class="sg"/><line x1="2170" y1="652" x2="2207" y2="721" class="sgl"/>
<text transform="translate(2183,686) rotate(90)" text-anchor="middle" class="st">ในความไม่สะดวก</text>
<text transform="translate(2195,686) rotate(90)" text-anchor="middle" class="st">ขออภัย</text>
<rect x="2353" y="671" width="45" height="79" rx="4" class="sg"/><line x1="2357" y1="675" x2="2394" y2="746" class="sgl"/>
<text transform="translate(2370,710) rotate(90)" text-anchor="middle" class="st">เขตก่อสร้าง</text>
<text transform="translate(2382,710) rotate(90)" text-anchor="middle" class="st">สิ้นสุด</text>
</g>

<!-- SIGNS right bottom -->
<g>
<polygon points="1937,1156 1961,1180 1937,1204 1913,1180" class="sg"/>
<path d="M1929,1190 l6,-6 q4,-4 4,-8 l6,-6" stroke="#111" stroke-width="4" fill="none"/>
<rect x="1961" y="1161" width="38" height="37" rx="3" class="sg"/>
<text transform="translate(1994,1180) rotate(-90)" text-anchor="middle" font-size="5" font-weight="bold">กม./ชม.</text>
<text transform="translate(1986,1180) rotate(-90)" text-anchor="middle" font-size="20">40</text>
<polygon points="2028,1156 2052,1180 2028,1204 2004,1180" class="sg"/>
<path d="M2021,1170 v20 M2033,1170 v6 q0,4 -4,6 v8" stroke="#111" stroke-width="4" fill="none"/>
<polygon points="2086,1156 2110,1180 2086,1204 2062,1180" class="sg"/>
<g transform="translate(2086,1180)" fill="#111"><circle cx="2" cy="-9" r="2.5"/><path d="M0,-6 l-4,8 l-4,6 h3 l3,-5 l3,6 h3 l-4,-8 l2,-6z"/><path d="M-6,-2 l10,4" stroke="#111" stroke-width="1.5"/></g>
<rect x="2110" y="1161" width="37" height="37" rx="3" class="sg"/>
<text transform="translate(2142,1180) rotate(-90)" text-anchor="middle" font-size="5" font-weight="bold">กม./ชม.</text>
<text transform="translate(2134,1180) rotate(-90)" text-anchor="middle" font-size="20">40</text>
<rect x="2175" y="1148" width="35" height="63" rx="4" class="sg"/><line x1="2179" y1="1152" x2="2206" y2="1207" class="sgl"/>
<text transform="translate(2196,1180) rotate(-90)" text-anchor="middle" class="st">ลดความเร็ว</text>
<rect x="2232" y="1141" width="46" height="77" rx="4" class="sg"/><line x1="2236" y1="1145" x2="2274" y2="1214" class="sgl"/>
<text transform="translate(2252,1180) rotate(-90)" text-anchor="middle" class="st">ข้างหน้า</text>
<text transform="translate(2264,1180) rotate(-90)" text-anchor="middle" class="st">เขตก่อสร้าง</text>
<rect x="2314" y="1141" width="46" height="77" rx="4" class="sg"/><line x1="2318" y1="1145" x2="2356" y2="1214" class="sgl"/>
<text transform="translate(2334,1180) rotate(-90)" text-anchor="middle" class="st">ขออภัย</text>
<text transform="translate(2346,1180) rotate(-90)" text-anchor="middle" class="st">ในความไม่สะดวก</text>
<polygon points="2387,1156 2411,1180 2387,1204 2363,1180" class="sg"/>
<path d="M2393,1180 h-10 l3,-3 m-3,3 l3,3" stroke="#111" stroke-width="2" fill="none"/>
<text transform="translate(2396,1180) rotate(-90)" text-anchor="middle" class="st" font-size="5">ข้างหน้า</text>
<rect x="2411" y="1161" width="38" height="37" rx="3" class="sg"/>
<text transform="translate(2436,1180) rotate(-90)" text-anchor="middle" font-size="14" font-weight="bold">1</text>
<text transform="translate(2427,1180) rotate(-90)" text-anchor="middle" font-size="8" font-weight="bold">กม.</text>
</g>

<!-- NOTES -->
<g fill="#1a1a1a">
<text x="638" y="1363" font-size="15" textLength="54" lengthAdjust="spacingAndGlyphs">หมายเหตุ</text>
<text x="630" y="1395" font-size="14" textLength="755" lengthAdjust="spacingAndGlyphs">1.ไฟฟ้าส่องสว่าง  ติดตั้งตลอดแนวการก่อสร้าง  ทุกระยะ  50.00  –  100.00ม   หรือดุจพินิจของผู้ควบคุมงานโดยใช้หลอดฟลูออเรสเซนต์</text>
<text x="630" y="1420" font-size="14" textLength="974" lengthAdjust="spacingAndGlyphs">2.รูปแบบการติดตั้งอุปกรณ์ฯ  ถ้าไม่ได้ระบุไว้  ให้เป็นไปตามคู่มือ  เครื่องหมายควบคุม การจราจรในงานก่อสร้าง  งานบูรณะ  และงานบำรุงรักษาทางหลวงแผ่นดิน  (คู่มือเล่มที่ 3)</text>
<text x="630" y="1449" font-size="14">3.</text>
<text x="741" y="1449" font-size="14" textLength="63" lengthAdjust="spacingAndGlyphs">พื้นที่ทำงาน</text>
</g>
<rect x="651" y="1436" width="76" height="37" fill="url(#hato)" stroke="#5fd35f" stroke-width="2"/>

<!-- SYMBOLS -->
<text x="2031" y="1272" font-size="13" fill="#2a3bd1">SYMBOLS:</text>
<g>
<rect x="2028" y="1286" width="20" height="4" fill="#e33"/><rect x="2028" y="1290" width="20" height="2" fill="#f4c20d"/><circle cx="2038" cy="1283" r="2.5" fill="#e08080"/>
<rect x="2030" y="1304" width="16" height="6" fill="#f0e040" stroke="#4c4" stroke-width="1"/><line x1="2032" y1="1310" x2="2032" y2="1315" stroke="#4c4" stroke-width="1.5"/><line x1="2044" y1="1310" x2="2044" y2="1315" stroke="#4c4" stroke-width="1.5"/>
<rect x="2029" y="1325" width="18" height="11" fill="#e8a070" stroke="#4c4" stroke-width="1"/><line x1="2029" y1="1329" x2="2047" y2="1329" stroke="#c55" stroke-width="1"/><line x1="2029" y1="1333" x2="2047" y2="1333" stroke="#c55" stroke-width="1"/>
<rect x="2029" y="1348" width="18" height="12" fill="#fff" stroke="#4c4" stroke-width="1.5"/><line x1="2029" y1="1354" x2="2047" y2="1354" stroke="#4c4" stroke-width="1.2"/>
<rect x="2029" y="1377" width="18" height="12" fill="#e88030" stroke="#4c4" stroke-width="1.5"/><line x1="2029" y1="1383" x2="2047" y2="1383" stroke="#4c4" stroke-width="1.5"/><line x1="2038" y1="1377" x2="2038" y2="1389" stroke="#4c4" stroke-width="1.5"/>
<circle cx="2217" cy="1288" r="4" fill="#e33"/>
<rect x="2214" y="1307" width="7" height="7" fill="#f04a2a" stroke="#c41" stroke-width="0.8"/>
<rect x="2205" y="1324" width="28" height="11" fill="url(#hat)" stroke="#5fd35f" stroke-width="1.2"/>
<path d="M2212,1360 h10 v-5 q-5,-6 -10,0z" fill="#b8b040" stroke="#4c4" stroke-width="1"/><path d="M2217,1347 v-4 M2210,1350 l-3,-2 M2224,1350 l3,-2" stroke="#4c4" stroke-width="1"/>
<use href="#lp" x="2216" y="1383"/>
</g>
<g class="lg">
<text x="2075" y="1292" textLength="62" lengthAdjust="spacingAndGlyphs">TRAFFIC  SIGN</text>
<text x="2075" y="1312" textLength="79" lengthAdjust="spacingAndGlyphs">BARRICADE  TYPE</text>
<text x="2075" y="1334" textLength="79" lengthAdjust="spacingAndGlyphs">BARRICADE  TYPE</text>
<text x="2075" y="1357" textLength="91" lengthAdjust="spacingAndGlyphs">CONCRETE  BARRIER</text>
<text x="2075" y="1386" textLength="81" lengthAdjust="spacingAndGlyphs">PLASTIC  BARRIER</text>
<text x="2254" y="1292" textLength="113" lengthAdjust="spacingAndGlyphs">FLEXIBLE  GUIDE   POST</text>
<text x="2254" y="1314" textLength="77" lengthAdjust="spacingAndGlyphs">VERTICAL  PANEL</text>
<text x="2254" y="1334" textLength="98" lengthAdjust="spacingAndGlyphs">CONSTRUCTION  AREA</text>
<text x="2252" y="1362" textLength="41" lengthAdjust="spacingAndGlyphs">FLASHER</text>
<text x="2252" y="1386" textLength="130" lengthAdjust="spacingAndGlyphs">1–36W  FLUORESCENT  LAMP</text>
</g>

<!-- TITLE BLOCK -->
<g fill="none" stroke="#222" stroke-width="1.3">
<rect x="2039" y="1411" width="415" height="263"/>
<line x1="2039" y1="1459" x2="2454" y2="1459"/>
<line x1="2039" y1="1499" x2="2454" y2="1499"/>
<line x1="2039" y1="1562" x2="2454" y2="1562"/>
<line x1="2039" y1="1618" x2="2454" y2="1618"/>
<line x1="2039" y1="1646" x2="2454" y2="1646"/>
<line x1="2227" y1="1459" x2="2227" y2="1499"/>
<line x1="2249" y1="1646" x2="2249" y2="1674"/>
<line x1="2362" y1="1646" x2="2362" y2="1674"/>
</g>
<g class="tb">
<text x="2257" y="1432" font-size="15" text-anchor="middle" textLength="208" lengthAdjust="spacingAndGlyphs">แผนการจัดการจราจรและติดตั้งอุปกรณ์</text>
<text x="2257" y="1452" font-size="15" text-anchor="middle" textLength="218" lengthAdjust="spacingAndGlyphs">อำนวยความปลอดภัยระหว่างการก่อสร้าง</text>
<text x="2043" y="1479" font-size="11" textLength="33" lengthAdjust="spacingAndGlyphs">ผู้ว่าจ้าง</text>
<text x="2100" y="1478" font-size="9" font-weight="bold" textLength="83" lengthAdjust="spacingAndGlyphs">สำนักก่อสร้างทางที่ 2</text>
<text x="2100" y="1491" font-size="9" font-weight="bold" textLength="52" lengthAdjust="spacingAndGlyphs">กรมทางหลวง</text>
<text x="2233" y="1477" font-size="11" textLength="36" lengthAdjust="spacingAndGlyphs">ผู้รับจ้าง</text>
<text x="2283" y="1476" font-size="9" font-weight="bold" textLength="134" lengthAdjust="spacingAndGlyphs">บริษัท  วนิชชัยก่อสร้าง(1979)จำกัด</text>
<text x="2045" y="1521" font-size="11" textLength="41" lengthAdjust="spacingAndGlyphs">โครงการ :</text>
<text x="2101" y="1521" font-size="11" textLength="259" lengthAdjust="spacingAndGlyphs">ก่อสร้างทางหลวงหมายเลข 2  สายอุดรธานี –  อ.สระใคร</text>
<text x="2101" y="1541" font-size="10" textLength="349" lengthAdjust="spacingAndGlyphs">กม.466+355.000–กม.468+515.000  และ  กม.472+400–กม.485+430.000</text>
<text x="2101" y="1559" font-size="10" textLength="97" lengthAdjust="spacingAndGlyphs">ระยะทาง 15.190  กม.</text>
<text x="2045" y="1581" font-size="10" textLength="372" lengthAdjust="spacingAndGlyphs">DRAWING :  แผนงานตั้งป้ายจราจร  กรณีงาน  CONCRETE  PAVEMENT  (เต็มหน้าตัด)</text>
<text x="2102" y="1599" font-size="10" textLength="56" lengthAdjust="spacingAndGlyphs">WORK  ZONE</text>
<text x="2042" y="1637" font-size="11" textLength="182" lengthAdjust="spacingAndGlyphs">ผู้ออกแบบ :  นายผดุงสิน  ธนศรีวนิชชัย</text>
<text x="2282" y="1637" font-size="11" textLength="48" lengthAdjust="spacingAndGlyphs">ลายเซ็นต์ :</text>
<text x="2045" y="1665" font-size="11" textLength="65" lengthAdjust="spacingAndGlyphs">วัน  เดือน  ปี :</text>
<text x="2168" y="1665" font-size="10" textLength="64" lengthAdjust="spacingAndGlyphs">เมษายน 2566</text>
<text x="2268" y="1665" font-size="11" textLength="37" lengthAdjust="spacingAndGlyphs">แผ่นที่ :</text>
<text x="2318" y="1665" font-size="11">2</text>
<text x="2378" y="1665" font-size="11" textLength="39" lengthAdjust="spacingAndGlyphs">จำนวน :</text>
<text x="2431" y="1665" font-size="11">2</text>
</g>
</svg>
</body></html>
